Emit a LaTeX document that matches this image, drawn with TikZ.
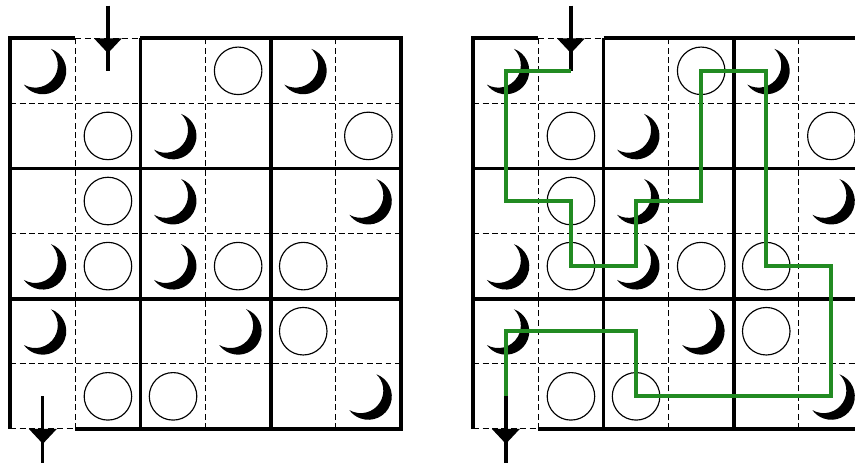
\documentclass[tikz,border=0pt]{standalone}
\usetikzlibrary{arrows.meta, decorations.markings}
\definecolor{routegreen}{RGB}{34,139,34}
\tikzstyle{boxline}=[line width=1.7pt]
\tikzstyle{cellline}=[line width=0.5pt, dash pattern=on 2.6pt off 1.5pt]
\tikzstyle{pearl}=[line width=0.5pt]
\tikzstyle{entry}=[line width=1.45pt, postaction={decorate},
  decoration={markings, mark=at position 0.73cm with {\arrow{Triangle[width=11.8pt,length=6.5pt]}}}]
\tikzstyle{route}=[routegreen, line width=1.7pt]
% crescent: outer arc between the horns, then the inner arc back
\tikzset{moon/.pic={
  \fill (70:0.36) arc[start angle=70, end angle=-144, radius=0.36]
    arc[start angle=-120.1, end angle=46.1, radius=0.347] -- cycle;}}

\begin{document}
\begin{tikzpicture}[x=1cm, y=1cm]
  \path[use as bounding box] (-0.158,-0.509) rectangle (12.975,6.588);
  \clip (-0.158,-0.509) rectangle (12.975,6.588);
  \foreach \g/\ox in {L/0, R/7.112} {
    \begin{scope}[xshift=\ox cm]
      % cell centres: \g-column-row, rows counted from the top
      \foreach \c in {1,...,6}
        \foreach \r in {1,...,6}
          \coordinate (\g-\c-\r) at (\c-0.5, 6.5-\r);
      \coordinate (\g-in) at (1.5,6.5);
      \coordinate (\g-out) at (0.5,-0.6);
      % grid
      \foreach \k in {1,3,5} {
        \draw[cellline] (\k,0) -- (\k,6);
        \draw[cellline] (0,\k) -- (6,\k);
      }
      \draw[cellline] (1,6) -- (2,6) (0,0) -- (1,0);
      \foreach \k in {2,4} {
        \draw[boxline] (\k,0) -- (\k,6);
        \draw[boxline] (0,\k) -- (6,\k);
      }
      \draw[boxline] (2,6) -- (6,6) -- (6,0) -- (1,0);
      \draw[boxline] (1,6) -- (0,6) -- (0,0);
      % circles and moons
      \foreach \c/\r in {4/1, 2/2, 6/2, 2/3, 2/4, 4/4, 5/4, 5/5, 2/6, 3/6}
        \draw[pearl] (\g-\c-\r) circle (0.365);
      \foreach \c/\r in {1/1, 5/1, 3/2, 3/3, 6/3, 1/4, 3/4, 1/5, 4/5, 6/6}
        \pic at (\g-\c-\r) {moon};
      % way in and way out
      \draw[entry] (\g-in) -- (\g-2-1);
      \draw[entry] (\g-1-6) -- (\g-out);
    \end{scope}
  }
  \draw[route] (R-2-1) -- (R-1-1) -- (R-1-3) -- (R-2-3) -- (R-2-4) -- (R-3-4)
    -- (R-3-3) -- (R-4-3) -- (R-4-1) -- (R-5-1) -- (R-5-4) -- (R-6-4)
    -- (R-6-6) -- (R-3-6) -- (R-3-5) -- (R-1-5) -- (R-1-6);
\end{tikzpicture}
\end{document}
